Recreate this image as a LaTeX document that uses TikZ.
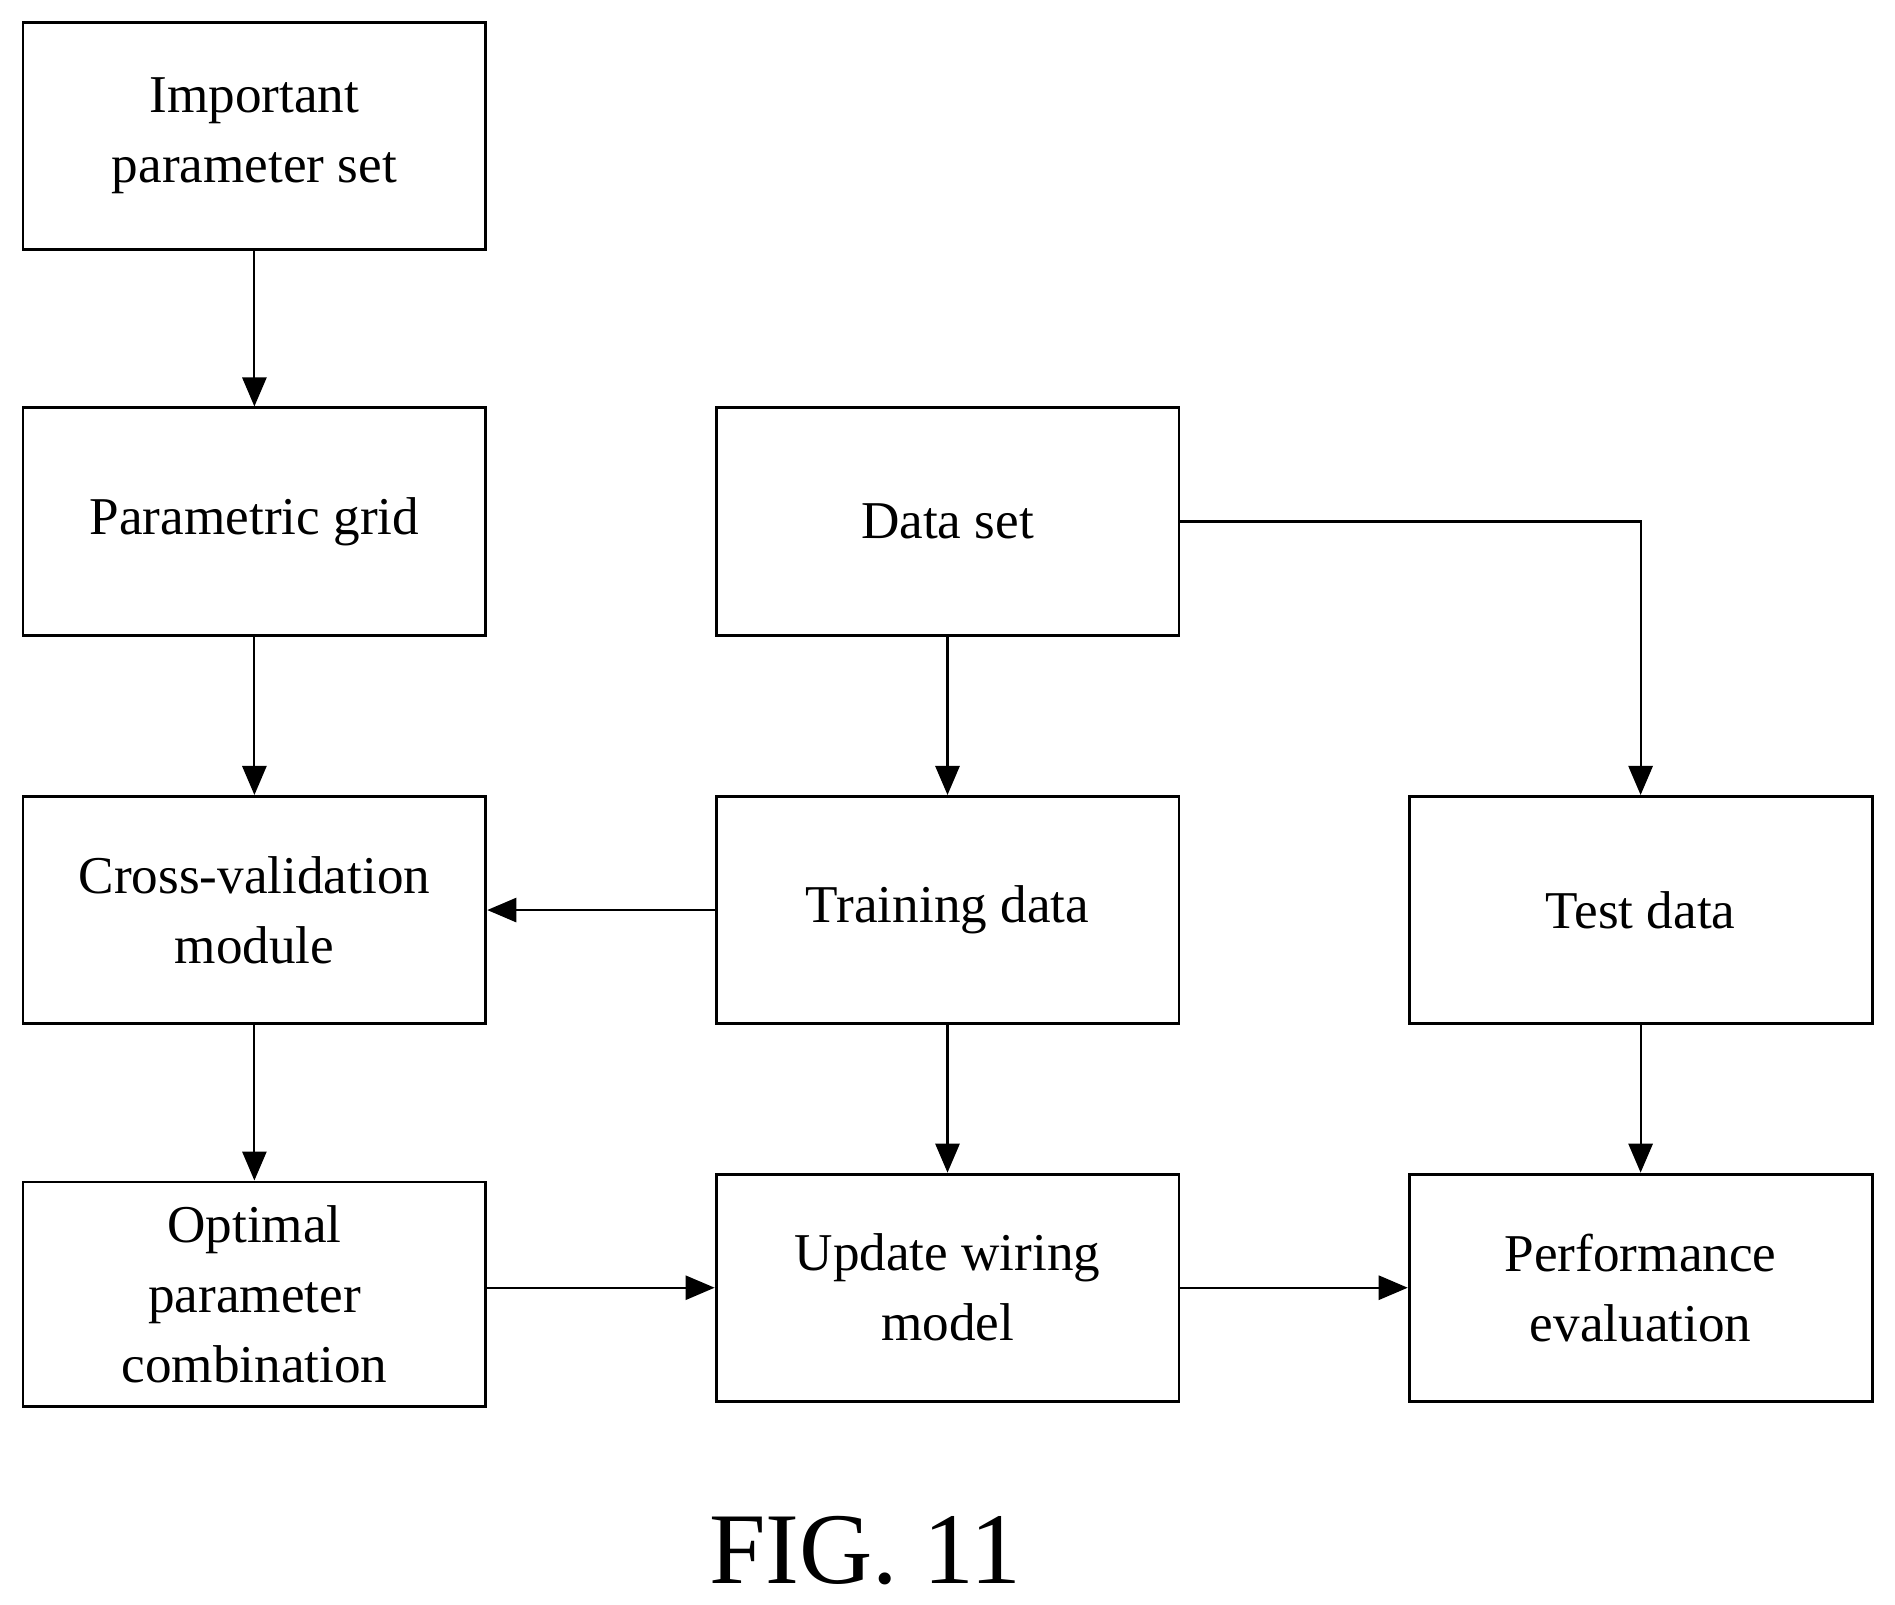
\documentclass[tikz,border=0pt]{standalone}
\usepackage{fontspec}
\setmainfont{Liberation Serif}
\usetikzlibrary{arrows.meta}
\begin{document}
\begin{tikzpicture}[x=0.5pt,y=-0.5pt,
  box/.style={draw,line width=1.2pt,minimum width=191.5pt,minimum height=94pt,align=center,inner sep=0pt,
    font=\fontsize{22}{29}\selectfont},
  arr/.style={line width=0.9pt,-{Triangle[length=12pt,width=10pt]}}]
\useasboundingbox (0,0) rectangle (1568,1328);
\node[box] (imp) at (210.5,112.5) {Important\\parameter set};
\node[box] (grid) at (210.5,431.5) {Parametric grid};
\node[box] (data) at (784,431.5) {Data set};
\node[box] (cv) at (210.5,753) {Cross-validation\\module};
\node[box] (train) at (784,753) {Training data};
\node[box] (test) at (1357.5,753) {Test data};
\node[box,minimum height=93pt] (opt) at (210.5,1071) {Optimal\\parameter\\combination};
\node[box] (upd) at (784,1065.5) {Update wiring\\model};
\node[box] (perf) at (1357.5,1065.5) {Performance\\evaluation};
\node[font=\fontsize{42}{50}\selectfont] (fig) at (716,1283) {FIG. 11};
\draw[arr] (imp) -- (grid);
\draw[arr] (grid) -- (cv);
\draw[arr] (cv) -- (opt);
\draw[arr] (data) -- (train);
\draw[arr] (train) -- (upd);
\draw[arr] (test) -- (perf);
\draw[arr] (train) -- (cv);
\draw[arr] (opt.east |- upd) -- (upd);
\draw[arr] (upd) -- (perf);
\draw[arr] (data.east) -| (test.north);
\end{tikzpicture}
\end{document}
